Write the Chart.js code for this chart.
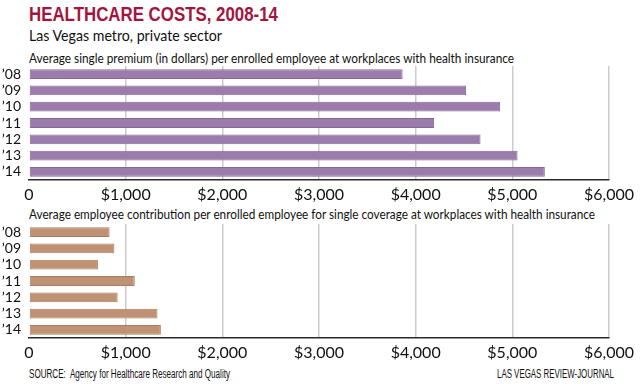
<!DOCTYPE html>
<html>
<head>
<meta charset="utf-8">
<script src="https://cdn.jsdelivr.net/npm/chart.js@4"></script>
<style>
  html, body { margin: 0; padding: 0; background: #fff; }
  #wrap { position: relative; width: 640px; height: 384px; overflow: hidden; font-family: Lato, sans-serif; color: #111; }
  .txt { position: absolute; white-space: nowrap; transform-origin: left top; }
  #title { left: 29px; top: 2px; font-family: "Liberation Sans", sans-serif; font-weight: bold; font-size: 21px; color: #a3153e; }
  #subtitle { left: 29px; top: 26px; font-size: 15px; }
  .note { left: 29px; font-size: 12.5px; }
  #note1 { top: 51px; }
  #note2 { top: 207px; }
  .foot { top: 367px; font-family: "Liberation Sans", sans-serif; font-size: 12px; }
  #source { left: 29px; }
  #credit { left: 497px; }
  canvas { position: absolute; left: 0; }
  #premiumChart { top: 64px; }
  #contribChart { top: 222px; }
</style>
</head>
<body>
<div id="wrap">
  <div class="txt" id="title">HEALTHCARE COSTS, 2008-14</div>
  <div class="txt" id="subtitle">Las Vegas metro, private sector</div>
  <div class="txt note" id="note1">Average single premium (in dollars) per enrolled employee at workplaces with health insurance</div>
  <div class="txt note" id="note2">Average employee contribution per enrolled employee for single coverage at workplaces with health insurance</div>
  <canvas id="premiumChart" width="640" height="141"></canvas>
  <canvas id="contribChart" width="640" height="141"></canvas>
  <div class="txt foot" id="source">SOURCE:&nbsp; Agency for Healthcare Research and Quality</div>
  <div class="txt foot" id="credit">LAS VEGAS REVIEW-JOURNAL</div>
</div>
<script>
// Years shown on the y axis
const years = ['\u201908', '\u201909', '\u201910', '\u201911', '\u201912', '\u201913', '\u201914'];

// Average single premium, dollars
const premiums = [3865, 4522, 4874, 4191, 4671, 5054, 5336];

// Average employee contribution, dollars
const contributions = [834, 883, 713, 1094, 917, 1329, 1364];

// Dollar axis
const xTickValues = [0, 1000, 2000, 3000, 4000, 5000, 6000];
const xTickLabels = ['0', '$1,000', '$2,000', '$3,000', '$4,000', '$5,000', '$6,000'];

document.addEventListener('DOMContentLoaded', function() {
    // squeeze the headline texts to the condensed widths of the original
    fitWidth('title', 249);
    fitWidth('subtitle', 193);
    fitWidth('note1', 485);
    fitWidth('note2', 566);
    fitWidth('source', 201);
    fitWidth('credit', 117);

    renderBarChart('premiumChart', premiums, '#9b7cac', '#86679a');
    renderBarChart('contribChart', contributions, '#c09274', '#a87c60');
});

function fitWidth(id, target) {
    const el = document.getElementById(id);
    const natural = el.getBoundingClientRect().width;
    el.style.transform = 'scaleX(' + (target / natural) + ')';
}

function renderBarChart(canvasId, values, fill, edge) {
    const ctx = document.getElementById(canvasId).getContext('2d');

    return new Chart(ctx, {
        type: 'bar',
        data: {
            labels: years,
            datasets: [{
                data: values,
                backgroundColor: fill,
                borderColor: edge,
                borderWidth: 1,
                borderSkipped: false,
                barPercentage: 0.6,
                categoryPercentage: 1.0
            }]
        },
        options: {
            indexAxis: 'y',
            responsive: false,
            animation: false,
            layout: {
                padding: { top: 2, right: 31, left: 0, bottom: 0 }
            },
            plugins: {
                legend: { display: false },
                tooltip: { enabled: false }
            },
            scales: {
                x: {
                    min: 0,
                    max: 6000,
                    afterBuildTicks: function(scale) {
                        scale.ticks = xTickValues.map(v => ({ value: v }));
                    },
                    afterFit: function(scale) {
                        scale.height = 25;
                    },
                    border: { display: true, color: '#2a2a2a', width: 1.5 },
                    grid: {
                        drawTicks: false,
                        lineWidth: 1.5,
                        color: function(c) {
                            return c.tick && c.tick.value === 0 ? 'rgba(0,0,0,0)' : '#cccccc';
                        }
                    },
                    ticks: {
                        padding: 5,
                        color: '#111',
                        maxRotation: 0,
                        autoSkip: false,
                        font: { family: 'Lato', size: 16 },
                        callback: function(value, index) {
                            return xTickLabels[index];
                        }
                    }
                },
                y: {
                    afterFit: function(scale) {
                        scale.width = 29;
                        // keep the label overflow from shrinking the plot
                        scale.paddingTop = 0;
                        scale.paddingBottom = 0;
                    },
                    border: { display: false },
                    grid: { display: false, drawTicks: false },
                    ticks: {
                        padding: 8,
                        autoSkip: false,
                        color: '#111',
                        font: { family: 'Lato', size: 14 }
                    }
                }
            }
        }
    });
}
</script>
</body>
</html>
